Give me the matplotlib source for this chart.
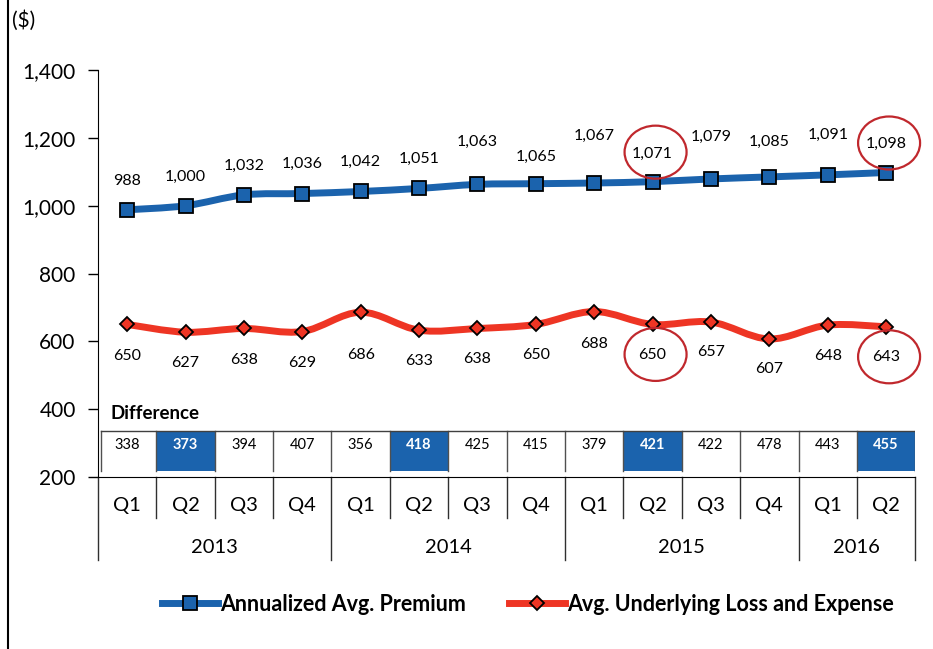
import numpy as np
import matplotlib
matplotlib.use('Agg')
import matplotlib.pyplot as plt
from matplotlib.path import Path
from matplotlib.patches import PathPatch, Ellipse, Rectangle
from matplotlib.lines import Line2D
from matplotlib.transforms import ScaledTranslation, blended_transform_factory
from matplotlib.ticker import FuncFormatter

# data
quarters = ['Q1', 'Q2', 'Q3', 'Q4'] * 3 + ['Q1', 'Q2']
years = ['2013', '2014', '2015', '2016']
year_counts = [4, 4, 4, 2]
premium = [988, 1000, 1032, 1036, 1042, 1051, 1063, 1065, 1067, 1071, 1079, 1085, 1091, 1098]
loss = [650, 627, 638, 629, 686, 633, 638, 650, 688, 650, 657, 607, 648, 643]
difference = [338, 373, 394, 407, 356, 418, 425, 415, 379, 421, 422, 478, 443, 455]
highlight = [1, 5, 9, 13]
circled = [9, 13]

# label offsets (pixels) - styling only
prem_off = [29, 29, 29, 30, 30, 30, 42, 27, 47, 28, 42, 35, 40, 29]
loss_off = [32, 31, 32, 31, 43, 31, 31, 31, 32, 31, 30, 30, 31, 30]

BLUE = '#1b63ad'
RED = '#ee3524'
CIRC = '#c0282d'
plt.rcParams['font.family'] = ['Lato', 'DejaVu Sans']


def smooth_path(xs, ys):
    pts = np.column_stack([xs, ys]).astype(float)
    n = len(pts)
    verts = [pts[0]]
    codes = [Path.MOVETO]
    for i in range(n - 1):
        p0 = pts[max(i - 1, 0)]
        p1, p2 = pts[i], pts[i + 1]
        p3 = pts[min(i + 2, n - 1)]
        verts += [p1 + (p2 - p0) / 6, p2 - (p3 - p1) / 6, p2]
        codes += [Path.CURVE4] * 3
    return Path(verts, codes)


fig = plt.figure(figsize=(9.33, 6.49), dpi=100)
ax = fig.add_axes([0.105, 0.265, 0.876, 0.627])
x = np.arange(len(quarters))

for vals, col, mk, ms in [(premium, BLUE, 's', 10), (loss, RED, 'D', 7.5)]:
    ax.add_patch(PathPatch(smooth_path(x, vals), fill=False, edgecolor=col,
                           lw=5, capstyle='round', joinstyle='round', zorder=2))
    ax.plot(x, vals, linestyle='none', marker=mk, ms=ms, mfc=col, mec='black',
            mew=1.3, zorder=3)

for i in x:
    ax.annotate(f'{premium[i]:,}', (i, premium[i]), xytext=(0, prem_off[i]),
                textcoords='offset pixels', ha='center', va='center', fontsize=11.5)
    ax.annotate(f'{loss[i]:,}', (i, loss[i]), xytext=(0, -loss_off[i]),
                textcoords='offset pixels', ha='center', va='center', fontsize=11.5)

# red circles round the highlighted labels
for i in circled:
    for val, dy in [(premium[i], 0.295), (loss[i], -0.30)]:
        tr = fig.dpi_scale_trans + ScaledTranslation(i, val, ax.transData)
        ax.add_patch(Ellipse((0.03, dy), 0.62, 0.53, transform=tr, fill=False,
                             edgecolor=CIRC, lw=1.6, clip_on=False, zorder=4))

ax.set_xlim(-0.5, len(quarters) - 0.5)
ax.set_ylim(200, 1400)
ax.set_yticks(range(200, 1401, 200))
ax.yaxis.set_major_formatter(FuncFormatter(lambda v, p: f'{int(v):,}'))
ax.tick_params(axis='y', direction='out', length=7, width=1, pad=9, labelsize=15)
ax.set_xticks([])
for s in ['top', 'right']:
    ax.spines[s].set_visible(False)

blend = blended_transform_factory(ax.transData, ax.transAxes)

# difference table
ax.text(-0.28, 0.155, 'Difference', transform=blend, fontsize=13.5, fontweight='bold',
        ha='left', va='center')
tb, tt = 0.0147, 0.113
for i in x:
    hl = i in highlight
    if hl:
        ax.add_patch(Rectangle((i - 0.5, tb), 1, tt - tb, transform=blend,
                               facecolor=BLUE, edgecolor='none', zorder=1))
    ax.text(i, 0.079, f'{difference[i]}', transform=blend, ha='center', va='center',
            fontsize=10.5, color='white' if hl else 'black',
            fontweight='bold' if hl else 'normal')
for b in np.arange(len(quarters) + 1) - 0.5:
    bx = max(b, -0.45)
    ax.plot([bx, bx], [tb, tt], transform=blend, color='#505050', lw=1, zorder=1)
ax.plot([-0.45, len(quarters) - 0.5], [tt, tt], transform=blend, color='#404040', lw=1)

# category axis
year_edges = np.cumsum([0] + year_counts) - 0.5
for b in np.arange(len(quarters) + 1) - 0.5:
    depth = -0.204 if b in year_edges else -0.1007
    ax.plot([b, b], [0, depth], transform=blend, color='#303030', lw=1, clip_on=False)
for i in x:
    ax.text(i, -0.0688, quarters[i], transform=blend, ha='center', va='center',
            fontsize=14.5)
for k, yr in enumerate(years):
    mid = (year_edges[k] + year_edges[k + 1]) / 2
    ax.text(mid, -0.172, yr, transform=blend, ha='center', va='center', fontsize=14.5)

fig.text(0.013, 0.969, '($)', fontsize=15, ha='left', va='center')
fig.add_artist(Line2D([0.009, 0.009], [0, 1], transform=fig.transFigure,
                      color='black', lw=1.5))

handles = [Line2D([], [], color=BLUE, lw=5, marker='s', ms=10, mfc=BLUE, mec='black', mew=1.3),
           Line2D([], [], color=RED, lw=5, marker='D', ms=7.5, mfc=RED, mec='black', mew=1.3)]
fig.legend(handles, ['Annualized Avg. Premium', 'Avg. Underlying Loss and Expense'],
           loc='center', bbox_to_anchor=(0.566, 0.069), ncol=2, frameon=False,
           handlelength=2.6, handletextpad=0.1, columnspacing=2.0,
           prop={'weight': 'bold', 'size': 15.5})

fig.savefig('out.png', dpi=100)
